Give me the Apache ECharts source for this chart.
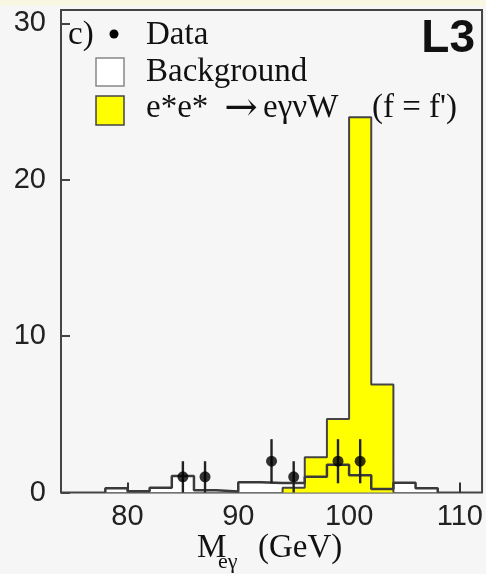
<!DOCTYPE html>
<html>
<head>
<meta charset="utf-8">
<script src="https://cdn.jsdelivr.net/npm/echarts@6/dist/echarts.min.js"></script>
<style>
html,body{margin:0;padding:0;background:#f6f6f6;}
#chart{width:486px;height:574px;}
</style>
</head>
<body>
<div id="chart"></div>
<script>
// ---- data ----
const bgEdges = [78, 80, 82, 84, 86, 88, 90, 92, 94, 96, 98, 100, 102, 104, 106, 108];
const bgValues = [0.27, 0.08, 0.3, 1.05, 0.15, 0.06, 0.65, 0.6, 0.6, 1.0, 1.78, 1.1, 0.22, 0.62, 0.27];
const sigEdges = [94, 96, 98, 100, 102, 104];
const sigValues = [0.3, 2.25, 4.7, 24.0, 6.9];
const dataX = [85, 87, 93, 95, 99, 101];
const dataY = [1, 1, 2, 1, 2, 2];
const dataErr = [1.0, 1.0, 1.41, 1.0, 1.41, 1.41];
const xTicks = [80, 90, 100, 110];
const yTicks = [0, 10, 20, 30];

function stepPoints(edges, vals) {
  const pts = [[edges[0], 0]];
  for (let i = 0; i < vals.length; i++) pts.push([edges[i], vals[i]]);
  pts.push([edges[edges.length - 1], vals[vals.length - 1]]);
  pts.push([edges[edges.length - 1], 0]);
  return pts;
}
const bgPts = stepPoints(bgEdges, bgValues);
const sigPts = stepPoints(sigEdges, sigValues);
const dataPts = dataX.map((x, i) => [x, dataY[i], dataErr[i]]);

const chart = echarts.init(document.getElementById('chart'), null, {renderer: 'canvas'});
const serif = '"Liberation Serif", "Times New Roman", serif';
const sans = '"Liberation Sans", Arial, sans-serif';

function t(x, y, text, font, align) {
  return {type: 'text', x: x, y: y, z: 10,
    style: {text: text, font: font, fill: '#111', align: align || 'left', verticalAlign: 'middle'}};
}

chart.setOption({
  backgroundColor: '#f6f6f6',
  animation: false,
  grid: {left: 61, right: 3, top: 10, bottom: 81.5, show: true, borderColor: '#444', borderWidth: 2, backgroundColor: 'transparent'},
  xAxis: {
    type: 'value', min: 74, max: 112,
    axisLine: {show: false},
    splitLine: {show: false},
    axisTick: {show: true, inside: true, length: 10, customValues: xTicks, lineStyle: {color: '#333', width: 2}},
    axisLabel: {show: true, customValues: xTicks, margin: 10, fontFamily: sans, fontSize: 29, color: '#222'}
  },
  yAxis: {
    type: 'value', min: 0, max: 30.85,
    axisLine: {show: false},
    splitLine: {show: false},
    axisTick: {show: true, inside: true, length: 9, customValues: yTicks, lineStyle: {color: '#444', width: 2}},
    axisLabel: {show: true, customValues: yTicks, margin: 15, fontFamily: sans, fontSize: 29, color: '#222'}
  },
  series: [
    {
      type: 'line', step: 'end', data: bgPts, symbol: 'none', z: 1,
      lineStyle: {width: 0, opacity: 0},
      areaStyle: {color: '#ffffff', opacity: 1}
    },
    {
      type: 'line', step: 'end', data: sigPts, symbol: 'none', z: 2,
      lineStyle: {color: '#444', width: 2},
      areaStyle: {color: '#ffff00', opacity: 1}
    },
    {
      type: 'line', step: 'end', data: bgPts, symbol: 'none', z: 3,
      lineStyle: {color: '#3a3a3a', width: 2.5}
    },
    {
      type: 'custom', z: 4, data: dataPts,
      renderItem: function (params, api) {
        const x = api.value(0), y = api.value(1), e = api.value(2);
        const p1 = api.coord([x, Math.max(0, y - e)]);
        const p2 = api.coord([x, y + e]);
        return {type: 'line', shape: {x1: p1[0], y1: p1[1], x2: p2[0], y2: p2[1]}, style: {stroke: '#222', lineWidth: 2.4}};
      }
    },
    {
      type: 'scatter', z: 5, data: dataPts.map(p => [p[0], p[1]]),
      symbol: 'circle', symbolSize: 11, itemStyle: {color: '#000'}
    }
  ],
  graphic: [
    {type: 'rect', shape: {x: 0, y: 0, width: 486, height: 6}, style: {fill: '#f8f8e2'}, z: 0},
    t(68, 35, 'c)', '33px ' + serif),
    {type: 'circle', shape: {cx: 114, cy: 34, r: 4.5}, style: {fill: '#000'}, z: 10},
    t(146, 35, 'Data', '33px ' + serif),
    {type: 'rect', shape: {x: 96, y: 58, width: 28, height: 28}, style: {fill: '#ffffff', stroke: '#888', lineWidth: 1.5}, z: 10},
    t(146, 72, 'Background', '33px ' + serif),
    {type: 'rect', shape: {x: 96, y: 96, width: 28, height: 29}, style: {fill: '#ffff00', stroke: '#444', lineWidth: 1.5}, z: 10},
    t(146, 108, 'e*e*', '33px ' + serif),
    t(241, 110, '\u2192', '40px "DejaVu Serif", serif', 'center'),
    t(263, 108, 'e\u03b3\u03bdW', '33px ' + serif),
    t(372, 108, "(f = f')", '33px ' + serif),
    t(475, 39, 'L3', 'bold 46px ' + sans, 'right'),
    t(197, 548, 'M', '33px ' + serif),
    t(218, 562, 'e\u03b3', '22px ' + serif),
    t(258, 548, '(GeV)', '33px ' + serif)
  ]
});
</script>
</body>
</html>
